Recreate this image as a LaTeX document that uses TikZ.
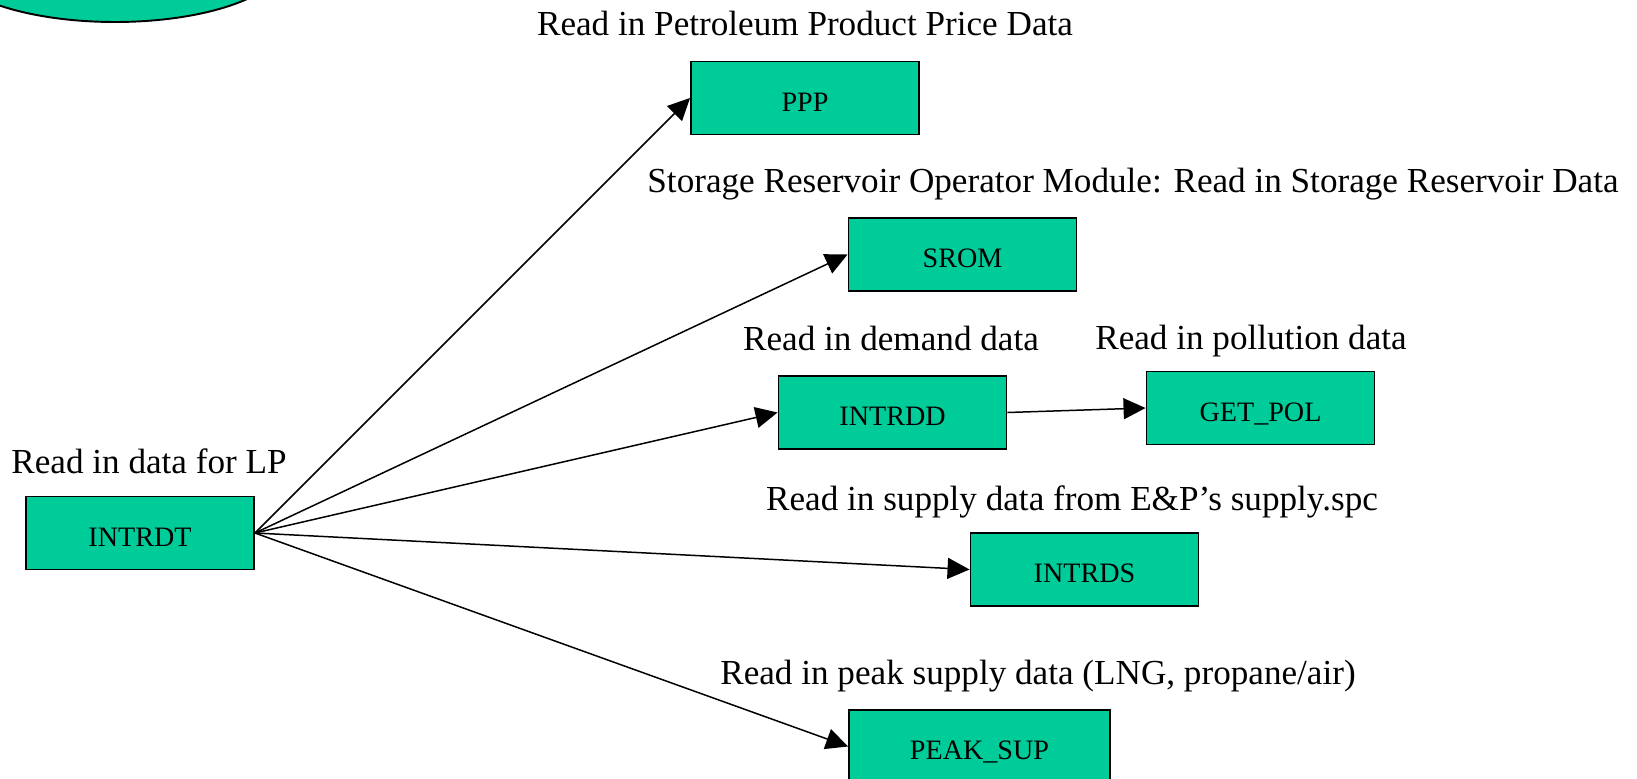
\documentclass[tikz,border=0pt]{standalone}
\usepackage{fontspec}
\setmainfont{Liberation Serif}
\usepackage{tikz}
\usetikzlibrary{arrows.meta,positioning}
\usepackage{xcolor}
\definecolor{modgreen}{RGB}{0,204,153}

\begin{document}
\begin{tikzpicture}[
    font=\fontsize{20}{24}\selectfont,
    >={Triangle[length=0.44cm,width=0.42cm]},
    arrow/.style={->, line width=0.85pt},
    module/.style={draw, line width=1.1pt, fill=modgreen, minimum width=4.56cm,
                   minimum height=1.46cm, align=center, text height=15pt,
                   text depth=0pt, font=\fontsize{16}{19}\selectfont},
    caption/.style={inner sep=0pt, align=center},
]
\useasboundingbox (0,0) rectangle (32.74,-15.56);

%% ── top-left oval (cut by the page edge) ─────────────────────
\begin{scope}
  \clip (0,0) rectangle (32.74,-15.56);
  \draw[line width=1.1pt, fill=modgreen] (2.3,0.8) ellipse (3.4cm and 1.24cm);
\end{scope}

%% ── modules ──────────────────────────────────────────────────
\node[module] (intrdt)  at (2.80,-10.66)  {INTRDT};
\node[module] (ppp)     at (16.10,-1.96)  {PPP};
\node[module] (srom)    at (19.25,-5.09)  {SROM};
\node[module] (intrdd)  at (17.85,-8.25)  {INTRDD};
\node[module] (getpol)  at (25.21,-8.16)  {GET\_POL};
\node[module] (intrds)  at (21.69,-11.39) {INTRDS};
\node[module, minimum width=5.22cm] (peaksup) at (19.59,-14.93) {PEAK\_SUP};

%% ── captions ─────────────────────────────────────────────────
\node[caption] (cintrdt)  at (2.98,-9.22)   {Read in data for LP};
\node[caption] (cppp)     at (16.10,-0.46)  {Read in Petroleum Product Price Data};
\node[caption] (csrom)    at (22.66,-3.69)  {Storage Reservoir Operator Module: Read in Storage Reservoir Data};
\node[caption] (cintrdd)  at (17.82,-6.76)  {Read in demand data};
\node[caption] (cgetpol)  at (25.02,-6.83)  {Read in pollution data};
\node[caption] (cintrds)  at (21.44,-10.03) {Read in supply data from E\&P’s supply.spc};
\node[caption] (cpeaksup) at (20.76,-13.53) {Read in peak supply data (LNG, propane/air)};

%% ── calls ────────────────────────────────────────────────────
\draw[arrow] (intrdt.east) -- (ppp.west);
\draw[arrow] (intrdt.east) -- (srom.west);
\draw[arrow] (intrdt.east) -- (intrdd.west);
\draw[arrow] (intrdt.east) -- (intrds.west);
\draw[arrow] (intrdt.east) -- (peaksup.west);
\draw[arrow] (intrdd.east) -- (getpol.west);

\end{tikzpicture}
\end{document}
